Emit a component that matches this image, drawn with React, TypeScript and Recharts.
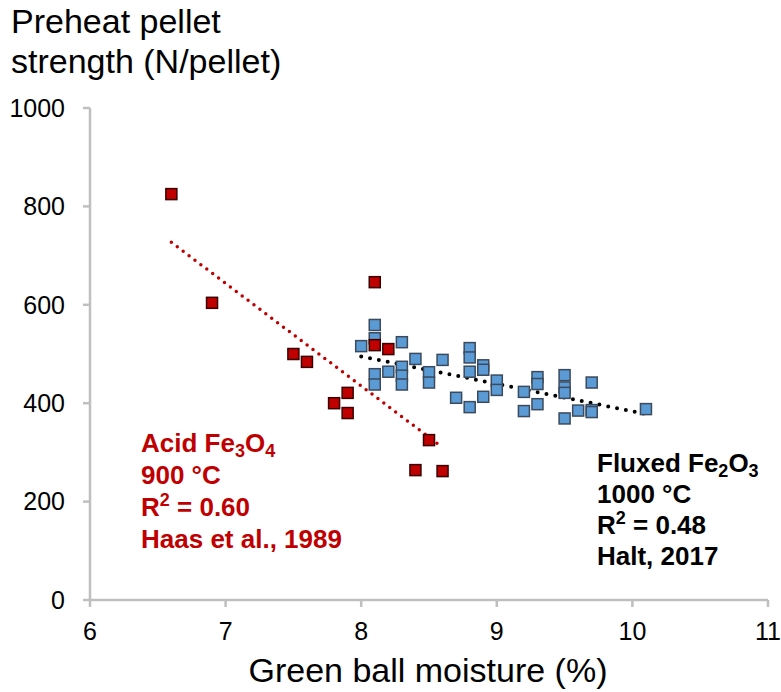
import React from 'react';
import { ScatterChart, Scatter, XAxis, YAxis, ReferenceLine } from 'recharts';

const xTicks = [6, 7, 8, 9, 10, 11];
const yTicks = [0, 200, 400, 600, 800, 1000];

const fluxedX = [8.0, 8.1, 8.1, 8.1, 8.1, 8.2, 8.3, 8.3, 8.3, 8.3, 8.4, 8.5, 8.5, 8.6, 8.7, 8.8, 8.8, 8.8, 8.8, 8.9, 8.9, 8.9, 9.0, 9.0, 9.2, 9.2, 9.3, 9.3, 9.3, 9.5, 9.5, 9.5, 9.5, 9.6, 9.7, 9.7, 9.7, 10.1];
const fluxedY = [516, 559, 532, 459, 438, 464, 524, 474, 456, 438, 490, 463, 442, 488, 411, 512, 493, 464, 392, 477, 468, 413, 446, 427, 423, 384, 453, 439, 398, 457, 432, 421, 369, 385, 442, 386, 382, 388];

const acidX = [6.6, 6.9, 7.5, 7.6, 7.8, 7.9, 7.9, 8.1, 8.1, 8.2, 8.5, 8.4, 8.6];
const acidY = [825, 604, 500, 484, 400, 421, 380, 646, 518, 510, 325, 264, 262];

const acidTrendX = [6.6, 8.6];
const acidTrendY = [727, 310];
const fluxedTrendX = [8.0, 10.1];
const fluxedTrendY = [495, 378];

const fluxedData = fluxedX.map((x, i) => ({ x, y: fluxedY[i] }));
const acidData = acidX.map((x, i) => ({ x, y: acidY[i] }));

const FONT = '"Liberation Sans", Arial, sans-serif';
const AXIS = '#bfbfbf';

const makeSquare = (fill: string, stroke: string) => (props: any) => {
  const { cx, cy } = props;
  const s = 11;
  return <rect x={cx - s / 2} y={cy - s / 2} width={s} height={s} fill={fill} stroke={stroke} strokeWidth={1.5} />;
};

export default function App() {
  return (
    <div style={{ position: 'absolute', left: 0, top: 0, width: 781, height: 692, background: '#fff' }}>
      <ScatterChart width={781} height={692} margin={{ top: 108, right: 13, bottom: 0, left: 0 }}>
        <XAxis
          type="number"
          dataKey="x"
          domain={[6, 11]}
          ticks={xTicks}
          interval={0}
          height={92}
          stroke={AXIS}
          strokeWidth={2.5}
          tickSize={7}
          tickMargin={15}
          tick={{ fill: '#000', fontSize: 25, fontFamily: FONT }}
          tickLine={{ stroke: AXIS, strokeWidth: 2.5 }}
        />
        <YAxis
          type="number"
          dataKey="y"
          domain={[0, 1000]}
          ticks={yTicks}
          interval={0}
          width={90}
          stroke={AXIS}
          strokeWidth={2.5}
          tickSize={7}
          tickMargin={18}
          tick={{ fill: '#000', fontSize: 25, fontFamily: FONT }}
          tickLine={{ stroke: AXIS, strokeWidth: 2.5 }}
        />
        <Scatter data={fluxedData} isAnimationActive={false} shape={makeSquare('#5b9bd5', '#3b4a5c')} />
        <Scatter data={acidData} isAnimationActive={false} shape={makeSquare('#c00000', '#3a0000')} />
        <ReferenceLine
          segment={[{ x: acidTrendX[0], y: acidTrendY[0] }, { x: acidTrendX[1], y: acidTrendY[1] }]}
          stroke="#c00000"
          strokeWidth={3.5}
          strokeDasharray="0 7.4"
          strokeLinecap="round"
          ifOverflow="visible"
        />
        <ReferenceLine
          segment={[{ x: fluxedTrendX[0], y: fluxedTrendY[0] }, { x: fluxedTrendX[1], y: fluxedTrendY[1] }]}
          stroke="#000"
          strokeWidth={4}
          strokeDasharray="0 9"
          strokeLinecap="round"
          ifOverflow="visible"
        />
      </ScatterChart>
      <svg width={781} height={692} style={{ position: 'absolute', left: 0, top: 0, pointerEvents: 'none' }}>
        <g fontFamily={FONT} fontSize={34} fill="#000">
          <text x={11} y={33}>Preheat pellet</text>
          <text x={11} y={73}>strength (N/pellet)</text>
          <text x={428} y={682} textAnchor="middle">Green ball moisture (%)</text>
        </g>
        <g fontFamily={FONT} fontSize={26} fontWeight="bold" fill="#c00000">
          <text x={141} y={452}>
            Acid Fe<tspan dy={5} fontSize={18}>3</tspan><tspan dy={-5}>O</tspan><tspan dy={5} fontSize={18}>4</tspan>
          </text>
          <text x={141} y={484}>900 °C</text>
          <text x={141} y={516}>
            R<tspan dy={-10} fontSize={18}>2</tspan><tspan dy={10}> = 0.60</tspan>
          </text>
          <text x={141} y={548}>Haas et al., 1989</text>
        </g>
        <g fontFamily={FONT} fontSize={26} fontWeight="bold" fill="#000">
          <text x={597} y={472}>
            Fluxed Fe<tspan dy={5} fontSize={18}>2</tspan><tspan dy={-5}>O</tspan><tspan dy={5} fontSize={18}>3</tspan>
          </text>
          <text x={597} y={503}>1000 °C</text>
          <text x={597} y={534}>
            R<tspan dy={-10} fontSize={18}>2</tspan><tspan dy={10}> = 0.48</tspan>
          </text>
          <text x={597} y={565}>Halt, 2017</text>
        </g>
      </svg>
    </div>
  );
}
